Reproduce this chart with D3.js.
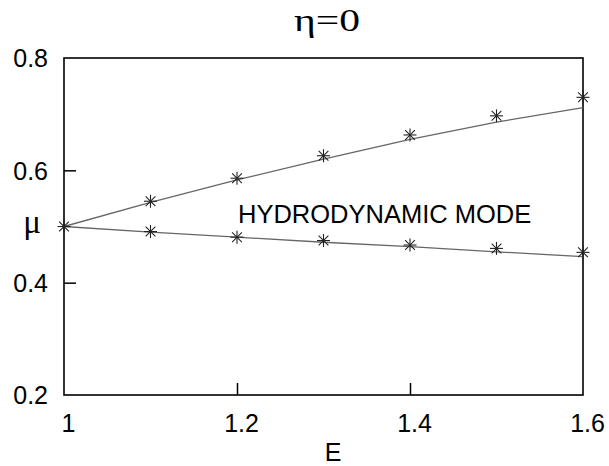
<!DOCTYPE html>
<html>
<head>
<meta charset="utf-8">
<script src="https://cdn.jsdelivr.net/npm/d3@7"></script>
<style>
  body { margin: 0; background: #fff; }
  svg { display: block; }
</style>
</head>
<body>
<div id="chart"></div>
<script>
// data
const eValues = [1.0, 1.1, 1.2, 1.3, 1.4, 1.5, 1.6];
const upperPoints = [0.500, 0.545, 0.586, 0.626, 0.663, 0.697, 0.730];
const lowerPoints = [0.500, 0.491, 0.481, 0.475, 0.467, 0.461, 0.454];
const upperCurve = [0.500, 0.543, 0.583, 0.620, 0.655, 0.686, 0.7115];
const lowerCurve = [0.500, 0.490, 0.481, 0.472, 0.464, 0.455, 0.4463];
const xTicks = [1, 1.2, 1.4, 1.6];
const yTicks = [0.2, 0.4, 0.6, 0.8];

const width = 609, height = 466;
const margin = {top: 58, right: 26, bottom: 71, left: 64};

const svg = d3.select("#chart")
    .append("svg")
    .attr("width", width)
    .attr("height", height);

const x = d3.scaleLinear()
    .domain([1, 1.6])
    .range([margin.left, width - margin.right]);

const y = d3.scaleLinear()
    .domain([0.2, 0.8])
    .range([height - margin.bottom, margin.top]);

const sans = "Liberation Sans, Arial, sans-serif";
const serif = "Liberation Serif, Times New Roman, serif";

// inward ticks on left and bottom
const xAxis = svg.append("g")
    .attr("transform", `translate(0,${height - margin.bottom})`)
    .call(d3.axisBottom(x).tickValues(xTicks).tickSizeInner(-12).tickSizeOuter(0)
        .tickPadding(24).tickFormat(d3.format("")));

const yAxis = svg.append("g")
    .attr("transform", `translate(${margin.left},0)`)
    .call(d3.axisLeft(y).tickValues(yTicks).tickSizeInner(-12).tickSizeOuter(0)
        .tickPadding(16).tickFormat(d3.format(".1f")));

[xAxis, yAxis].forEach(g => {
    g.select(".domain").remove();
    g.selectAll("line").attr("stroke", "#000").attr("stroke-width", 1.5);
    g.selectAll("text").attr("font-family", sans).attr("font-size", 25).attr("fill", "#000");
});
// drop ticks that sit on the frame
xAxis.selectAll(".tick line").filter(d => d === 1 || d === 1.6).remove();
yAxis.selectAll(".tick line").filter(d => d === 0.2 || d === 0.8).remove();
xAxis.selectAll("text").attr("dy", "0.5em").attr("dx", 4);
yAxis.selectAll("text").attr("dy", "0.35em");

// frame
svg.append("rect")
    .attr("x", x(1))
    .attr("y", y(0.8))
    .attr("width", x(1.6) - x(1))
    .attr("height", y(0.2) - y(0.8))
    .attr("fill", "none")
    .attr("stroke", "#000")
    .attr("stroke-width", 1.6);

// curves
const line = d3.line()
    .x(d => x(d[0]))
    .y(d => y(d[1]));

[upperCurve, lowerCurve].forEach(vals => {
    svg.append("path")
        .datum(eValues.map((e, i) => [e, vals[i]]))
        .attr("d", line)
        .attr("fill", "none")
        .attr("stroke", "#666")
        .attr("stroke-width", 1.3);
});

// asterisk markers
const star = 6.5;
const markers = [];
eValues.forEach((e, i) => {
    markers.push([e, upperPoints[i]]);
    if (i > 0) markers.push([e, lowerPoints[i]]);
});

const m = svg.selectAll("g.marker")
    .data(markers)
    .enter()
    .append("g")
    .attr("class", "marker")
    .attr("transform", d => `translate(${x(d[0])},${y(d[1])})`)
    .attr("stroke", "#222")
    .attr("stroke-width", 1.1);

m.append("line").attr("x1", -star).attr("x2", star).attr("y1", 0).attr("y2", 0);
m.append("line").attr("x1", 0).attr("x2", 0).attr("y1", -star).attr("y2", star);
m.append("line").attr("x1", -star * 0.75).attr("x2", star * 0.75).attr("y1", -star * 0.75).attr("y2", star * 0.75);
m.append("line").attr("x1", -star * 0.75).attr("x2", star * 0.75).attr("y1", star * 0.75).attr("y2", -star * 0.75);

// labels
svg.append("text")
    .attr("x", 327)
    .attr("y", 31)
    .attr("text-anchor", "middle")
    .attr("font-family", serif)
    .attr("font-size", 31)
    .attr("textLength", 66)
    .attr("lengthAdjust", "spacingAndGlyphs")
    .text("η=0");

svg.append("text")
    .attr("x", 32)
    .attr("y", 233)
    .attr("text-anchor", "middle")
    .attr("font-family", serif)
    .attr("font-size", 33)
    .text("μ");

svg.append("text")
    .attr("x", 333)
    .attr("y", 461)
    .attr("text-anchor", "middle")
    .attr("font-family", sans)
    .attr("font-size", 25)
    .text("E");

svg.append("text")
    .attr("x", 238)
    .attr("y", 223)
    .attr("font-family", sans)
    .attr("font-size", 25.5)
    .text("HYDRODYNAMIC MODE");
</script>
</body>
</html>
